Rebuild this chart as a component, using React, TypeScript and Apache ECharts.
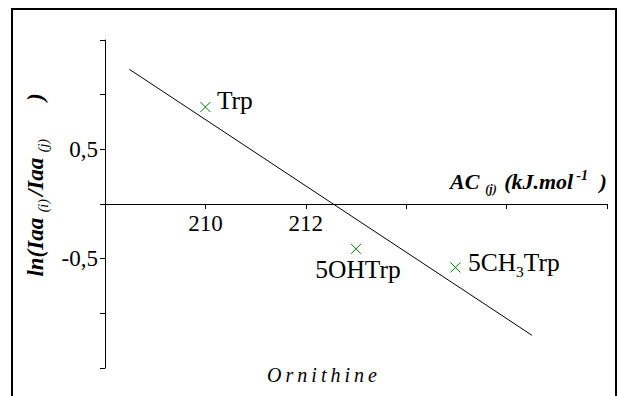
import React, { useEffect, useRef } from "react";
import * as echarts from "echarts";

// ---- data ----
const compounds = ["Trp", "5OHTrp", "5CH3Trp"];
const acValues = [210.0, 213.0, 214.98];
const lnRatios = [0.887, -0.41, -0.58];
const fitX = [208.485, 216.505];
const fitY = [1.232, -1.201];
const xLabelledTicks = [210, 212];
const yLabelledTicks = [0.5, -0.5];
const subsetName = "Ornithine";

const SERIF = "Liberation Serif";
const GREEN = "#008000";

function fmtComma(v: number) {
  return String(v).replace(".", ",");
}
function font(size: number, bold = false, italic = false) {
  return `${italic ? "italic " : ""}${bold ? "bold " : ""}${size}px '${SERIF}'`;
}

export default function App() {
  const ref = useRef<HTMLDivElement>(null);

  useEffect(() => {
    if (!ref.current) return;
    const chart = echarts.init(ref.current, undefined, { renderer: "svg" });

    const labelPlacement = [
      { position: "right", distance: 4, offset: [0, -7] },
      { position: "bottom", distance: 0, offset: [2, 0] },
      { position: "right", distance: 5, offset: [0, -5] },
    ];

    const scatterData = compounds.map((name, i) => ({
      name,
      value: [acValues[i], lnRatios[i]],
      itemStyle: { color: "none", borderColor: GREEN, borderWidth: 1, opacity: 1 },
      label: {
        show: true,
        color: "#000",
        ...labelPlacement[i],
        formatter: name.replace("H3", "H{s|3}"),
      },
    }));

    const option: any = {
      animation: false,
      backgroundColor: "#fff",
      grid: { left: 105, right: 16, top: 40, bottom: 28, containLabel: false },
      xAxis: {
        type: "value",
        position: "bottom",
        offset: -164,
        min: 208,
        max: 218,
        interval: 2,
        axisLine: { show: true, onZero: false, lineStyle: { color: "#000", width: 1 } },
        axisTick: { show: true, inside: false, length: 5, lineStyle: { color: "#000" } },
        axisLabel: {
          margin: 8,
          color: "#000",
          fontFamily: SERIF,
          fontSize: 23,
          formatter: (v: number) => (xLabelledTicks.includes(v) ? String(v) : ""),
        },
        splitLine: { show: false },
      },
      yAxis: {
        type: "value",
        min: -1.5,
        max: 1.5,
        interval: 0.5,
        axisLine: { show: true, onZero: false, lineStyle: { color: "#000", width: 1 } },
        axisTick: { show: true, inside: false, length: 5, lineStyle: { color: "#000" } },
        axisLabel: {
          margin: 7,
          color: "#000",
          fontFamily: SERIF,
          fontSize: 23,
          formatter: (v: number) => (yLabelledTicks.includes(v) ? fmtComma(v) : ""),
        },
        splitLine: { show: false },
      },
      series: [
        {
          type: "line",
          data: fitX.map((x, i) => [x, fitY[i]]),
          symbol: "none",
          lineStyle: { color: "#000", width: 1 },
          silent: true,
          z: 1,
        },
        {
          type: "scatter",
          data: scatterData,
          symbol: "path://M0,0L10,10M10,0L0,10",
          symbolSize: 10,
          z: 3,
          itemStyle: { color: "none", borderColor: GREEN, borderWidth: 1 },
          label: {
            color: "#000",
            fontFamily: SERIF,
            fontSize: 25.5,
            rich: {
              s: { fontFamily: SERIF, fontSize: 15.5, lineHeight: 15, padding: [18, 0, 0, 0], color: "#000" },
            },
          },
        },
      ],
      graphic: [
        {
          type: "rect",
          shape: { x: 12, y: 9, width: 604, height: 420 },
          style: { fill: "none", stroke: "#000", lineWidth: 2 },
          silent: true,
        },
        {
          type: "text",
          x: 35,
          y: 185,
          rotation: Math.PI / 2,
          style: {
            text: "{b|ln(Iaa}{s| (i)}{b|/Iaa}{s| (j)}{p|)}",
            font: font(23, true, true),
            align: "center",
            verticalAlign: "middle",
            textAlign: "center",
            textVerticalAlign: "middle",
            fill: "#000",
            rich: {
              b: { font: font(23, true, true), lineHeight: 23, fill: "#000" },
              s: { font: font(14, false, true), lineHeight: 14, padding: [16, 3, 0, 2], fill: "#000" },
              p: { font: font(23, true, true), lineHeight: 23, padding: [0, 0, 0, 35], fill: "#000" },
            },
          },
        },
        {
          type: "text",
          x: 450,
          y: 181,
          style: {
            text: "{b|AC}{s| (j)}{b| (kJ.mol}{u|-1}{b| )}",
            font: font(22, true, true),
            align: "left",
            verticalAlign: "middle",
            textAlign: "left",
            textVerticalAlign: "middle",
            fill: "#000",
            rich: {
              b: { font: font(22, true, true), lineHeight: 22, fill: "#000" },
              s: { font: font(12, true, true), lineHeight: 12, padding: [16, 2, 0, 3], fill: "#000" },
              u: { font: font(14, true, true), lineHeight: 14, padding: [0, 6, 11, 3], fill: "#000" },
            },
          },
        },
        {
          type: "text",
          x: 324,
          y: 375,
          style: {
            text: subsetName,
            align: "center",
            verticalAlign: "middle",
            textAlign: "center",
            textVerticalAlign: "middle",
            fill: "#000",
            font: font(20, false, true),
          },
        },
      ],
    };

    chart.setOption(option);

    const spaceOut = () => {
      const texts = ref.current?.querySelectorAll("text") || [];
      texts.forEach((t) => {
        if (t.textContent === subsetName) t.setAttribute("letter-spacing", "4");
      });
    };
    spaceOut();
    chart.on("finished", spaceOut);

    return () => {
      chart.dispose();
    };
  }, []);

  return (
    <div
      ref={ref}
      style={{ position: "fixed", left: 0, top: 0, width: 623, height: 396, background: "#fff" }}
    />
  );
}
